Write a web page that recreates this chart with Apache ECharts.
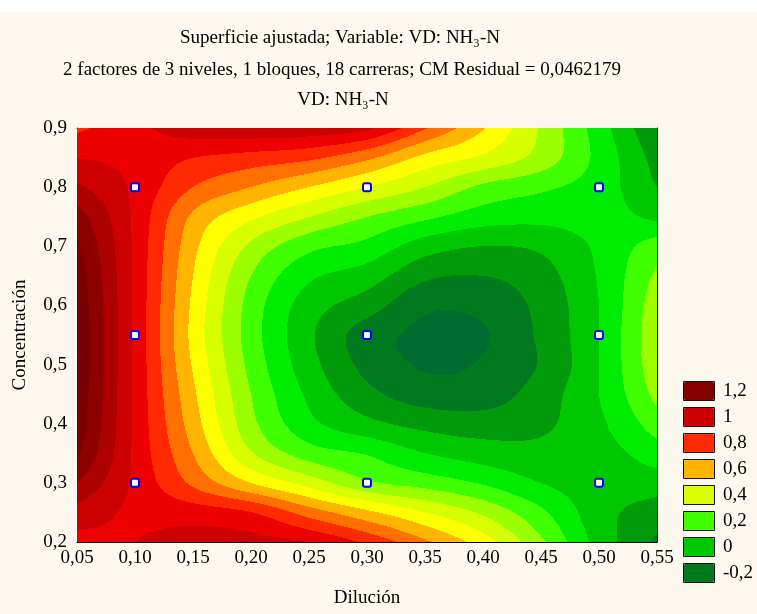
<!DOCTYPE html>
<html><head><meta charset="utf-8">
<script src="https://cdn.jsdelivr.net/npm/echarts@6/dist/echarts.min.js"></script>
<style>html,body{margin:0;padding:0;background:#fff}#c{width:757px;height:614px}</style>
</head><body><div id="c"></div>
<script>
// Grid of the fitted surface
const dilucion = [0.05, 0.10, 0.15, 0.20, 0.25, 0.30, 0.35, 0.40, 0.45, 0.50, 0.55];
const concentracion = [0.20, 0.25, 0.30, 0.35, 0.40, 0.45, 0.50, 0.55, 0.60, 0.65, 0.70, 0.75, 0.80, 0.85, 0.90];
// one row per concentration, values along dilucion
const row020 = [0.86, 0.90, 0.95, 0.94, 0.90, 0.78, 0.62, 0.45, 0.22, -0.04, -0.22];
const row025 = [0.96, 0.88, 0.85, 0.80, 0.65, 0.52, 0.40, 0.28, 0.12, -0.06, -0.15];
const row030 = [1.10, 0.88, 0.68, 0.50, 0.36, 0.22, 0.16, 0.09, 0.00, -0.05, -0.05];
const row035 = [1.22, 0.88, 0.60, 0.31, 0.15, 0.09, 0.00, -0.05, -0.07, -0.04, 0.05];
const row040 = [1.26, 0.88, 0.55, 0.23, 0.03, -0.07, -0.13, -0.15, -0.12, -0.02, 0.15];
const row045 = [1.28, 0.88, 0.52, 0.20, -0.02, -0.17, -0.25, -0.25, -0.15, 0.00, 0.23];
const row050 = [1.29, 0.88, 0.49, 0.17, -0.06, -0.23, -0.31, -0.29, -0.19, 0.00, 0.27];
const row055 = [1.29, 0.88, 0.47, 0.15, -0.08, -0.25, -0.32, -0.31, -0.18, 0.00, 0.28];
const row060 = [1.28, 0.88, 0.48, 0.16, -0.05, -0.15, -0.28, -0.27, -0.17, 0.00, 0.26];
const row065 = [1.26, 0.88, 0.50, 0.20, 0.02, -0.05, -0.18, -0.20, -0.14, 0.01, 0.22];
const row070 = [1.22, 0.88, 0.53, 0.28, 0.13, 0.07, -0.05, -0.10, -0.08, 0.02, 0.15];
const row075 = [1.15, 0.88, 0.58, 0.42, 0.30, 0.20, 0.12, 0.05, 0.03, 0.04, -0.02];
const row080 = [1.02, 0.88, 0.70, 0.60, 0.50, 0.40, 0.30, 0.18, 0.12, 0.05, -0.10];
const row085 = [0.90, 0.87, 0.80, 0.76, 0.72, 0.62, 0.47, 0.38, 0.26, 0.07, -0.14];
const row090 = [0.78, 0.87, 0.96, 0.98, 0.97, 0.92, 0.71, 0.51, 0.29, 0.05, -0.20];
const surface = [row020, row025, row030, row035, row040, row045, row050, row055,
                 row060, row065, row070, row075, row080, row085, row090];

// design points (white squares)
const puntosDilucion = [0.10, 0.30, 0.50];
const puntosConcentracion = [0.30, 0.55, 0.80];

// contour levels (upper bounds) and fill colours
const bandLevels = [-0.3, -0.2, -0.1, 0, 0.1, 0.2, 0.3, 0.4, 0.5, 0.6, 0.7, 0.8, 0.9, 1.0, 1.1, 1.2];
const bandColors = ['#006B2E', '#007A1E', '#009A0A', '#00C800', '#00EC00', '#40FF00', '#9CFF00',
  '#D8FF00', '#FFFF00', '#FFB400', '#FF7000', '#FF2A00', '#EC0000', '#CC0000', '#AC0000', '#8C0000', '#780000'];

// legend
const legendLabels = ['1,2', '1', '0,8', '0,6', '0,4', '0,2', '0', '-0,2'];
const legendColors = ['#860000', '#CC0000', '#FF2A00', '#FFB400', '#D8FF00', '#40FF00', '#00C800', '#007A1E'];
const legendLow = [1.1, 0.9, 0.7, 0.5, 0.3, 0.1, -0.1, null];

function colorFor(v) {
  for (let k = 0; k < bandLevels.length; k++) if (v <= bandLevels[k]) return bandColors[k];
  return bandColors[bandColors.length - 1];
}

const NX = dilucion.length, NY = concentracion.length;
// value at grid node, with linear extension one node beyond the edges
function node(jj, ii) {
  if (ii < 0) return 2 * node(jj, 0) - node(jj, 1);
  if (ii > NX - 1) return 2 * node(jj, NX - 1) - node(jj, NX - 2);
  if (jj < 0) return 2 * node(0, ii) - node(1, ii);
  if (jj > NY - 1) return 2 * node(NY - 1, ii) - node(NY - 2, ii);
  return surface[jj][ii];
}
function cr(p0, p1, p2, p3, t) {
  return 0.5 * (2 * p1 + (-p0 + p2) * t + (2 * p0 - 5 * p1 + 4 * p2 - p3) * t * t + (-p0 + 3 * p1 - 3 * p2 + p3) * t * t * t);
}

const cells = [];
for (let j = 0; j < NY - 1; j++) {
  for (let i = 0; i < NX - 1; i++) {
    const avg = (surface[j][i] + surface[j][i + 1] + surface[j + 1][i] + surface[j + 1][i + 1]) / 4;
    cells.push([(dilucion[i] + dilucion[i + 1]) / 2, (concentracion[j] + concentracion[j + 1]) / 2, avg, i, j]);
  }
}
const points = [];
puntosDilucion.forEach(x => puntosConcentracion.forEach(y => points.push([x, y])));

function renderCell(params, api) {
  const i = api.value(3), j = api.value(4);
  const p0 = api.coord([dilucion[i], concentracion[j]]);
  const p1 = api.coord([dilucion[i + 1], concentracion[j + 1]]);
  const left = Math.round(p0[0]), right = Math.round(p1[0]);
  const top = Math.round(p1[1]), bottom = Math.round(p0[1]);
  const P = [];
  for (let b = -1; b <= 2; b++) {
    P.push([node(j + b, i - 1), node(j + b, i), node(j + b, i + 1), node(j + b, i + 2)]);
  }
  const children = [];
  for (let py = top; py < bottom; py++) {
    const ty = (bottom - (py + 0.5)) / (bottom - top);
    let runStart = left, runColor = null;
    for (let px = left; px < right; px++) {
      const tx = (px + 0.5 - left) / (right - left);
      const r0 = cr(P[0][0], P[0][1], P[0][2], P[0][3], tx);
      const r1 = cr(P[1][0], P[1][1], P[1][2], P[1][3], tx);
      const r2 = cr(P[2][0], P[2][1], P[2][2], P[2][3], tx);
      const r3 = cr(P[3][0], P[3][1], P[3][2], P[3][3], tx);
      const v = cr(r0, r1, r2, r3, ty);
      const c = colorFor(v);
      if (c !== runColor) {
        if (runColor !== null) children.push({type: 'rect', shape: {x: runStart, y: py, width: px - runStart, height: 1}, style: {fill: runColor}});
        runStart = px; runColor = c;
      }
    }
    children.push({type: 'rect', shape: {x: runStart, y: py, width: right - runStart, height: 1}, style: {fill: runColor}});
  }
  return {type: 'group', children: children};
}

const serif = 'Liberation Serif';
const fs = 19;
const legendTop = 381, legendLeft = 683, legendW = 32, legendH = 20, legendGap = 6;
const chart = echarts.init(document.getElementById('c'), null, {renderer: 'canvas'});
const axisCommon = {
  type: 'value',
  axisLine: {show: true, onZero: false, lineStyle: {color: '#000', width: 1}},
  axisTick: {show: true, inside: true, length: 5, lineStyle: {color: '#000'}},
  splitLine: {show: false}
};
const graphics = [
  {type: 'rect', shape: {x: 0, y: 0, width: 757, height: 12}, style: {fill: '#ffffff'}, silent: true},
  {type: 'text', x: 340, y: 38, style: {text: 'Superficie ajustada; Variable: VD: NH\u2083-N', font: fs + 'px "' + serif + '"', fill: '#000', textAlign: 'center', textVerticalAlign: 'middle'}},
  {type: 'text', x: 342, y: 70, style: {text: '2 factores de 3 niveles, 1 bloques, 18 carreras; CM Residual = 0,0462179', font: fs + 'px "' + serif + '"', fill: '#000', textAlign: 'center', textVerticalAlign: 'middle'}},
  {type: 'text', x: 343, y: 100, style: {text: 'VD: NH\u2083-N', font: fs + 'px "' + serif + '"', fill: '#000', textAlign: 'center', textVerticalAlign: 'middle'}}
];
// black outlines around the legend swatches
legendLabels.forEach((lab, k) => {
  graphics.push({type: 'rect', z: 100, silent: true,
    shape: {x: legendLeft + 0.5, y: legendTop + k * (legendH + legendGap) + 0.5, width: legendW - 1, height: legendH - 1},
    style: {fill: null, stroke: '#111', lineWidth: 1}});
});
chart.setOption({
  backgroundColor: '#FDF9EF',
  animation: false,
  graphic: graphics,
  grid: {left: 77, top: 128, width: 580, height: 414},
  xAxis: [
    Object.assign({}, axisCommon, {
      min: 0.05, max: 0.55, interval: 0.05, position: 'bottom',
      axisLabel: {formatter: v => v.toFixed(2).replace('.', ','), color: '#000', fontFamily: serif, fontSize: fs, margin: 7},
      name: 'Dilución', nameLocation: 'middle', nameGap: 47,
      nameTextStyle: {color: '#000', fontFamily: serif, fontSize: fs}
    }),
    Object.assign({}, axisCommon, {min: 0.05, max: 0.55, interval: 0.05, position: 'top', axisLabel: {show: false}})
  ],
  yAxis: [
    Object.assign({}, axisCommon, {
      min: 0.2, max: 0.9, interval: 0.1, position: 'left',
      axisLabel: {formatter: v => v.toFixed(1).replace('.', ','), color: '#000', fontFamily: serif, fontSize: fs, margin: 10},
      name: 'Concentración', nameLocation: 'middle', nameGap: 47,
      nameTextStyle: {color: '#000', fontFamily: serif, fontSize: fs}
    }),
    Object.assign({}, axisCommon, {min: 0.2, max: 0.9, interval: 0.1, position: 'right', axisLabel: {show: false}})
  ],
  visualMap: {
    type: 'piecewise', seriesIndex: 0, dimension: 2,
    orient: 'vertical', left: legendLeft, top: legendTop, padding: 0,
    itemWidth: legendW, itemHeight: legendH, itemGap: legendGap, textGap: 8, align: 'left',
    hoverLink: false, selectedMode: false,
    textStyle: {color: '#000', fontFamily: serif, fontSize: fs},
    pieces: legendLabels.map((lab, k) => {
      const p = {label: lab, color: legendColors[k]};
      if (legendLow[k] !== null) p.gt = legendLow[k];
      if (k > 0) p.lte = legendLow[k - 1];
      return p;
    })
  },
  series: [
    {type: 'custom', renderItem: renderCell, data: cells, encode: {x: 0, y: 1}, silent: true, z: 1},
    {type: 'scatter', data: points, symbol: 'roundRect', symbolSize: 8, z: 5, silent: true,
     itemStyle: {color: '#ffffff', borderColor: '#0000FF', borderWidth: 2, opacity: 1}}
  ]
});
</script></body></html>
